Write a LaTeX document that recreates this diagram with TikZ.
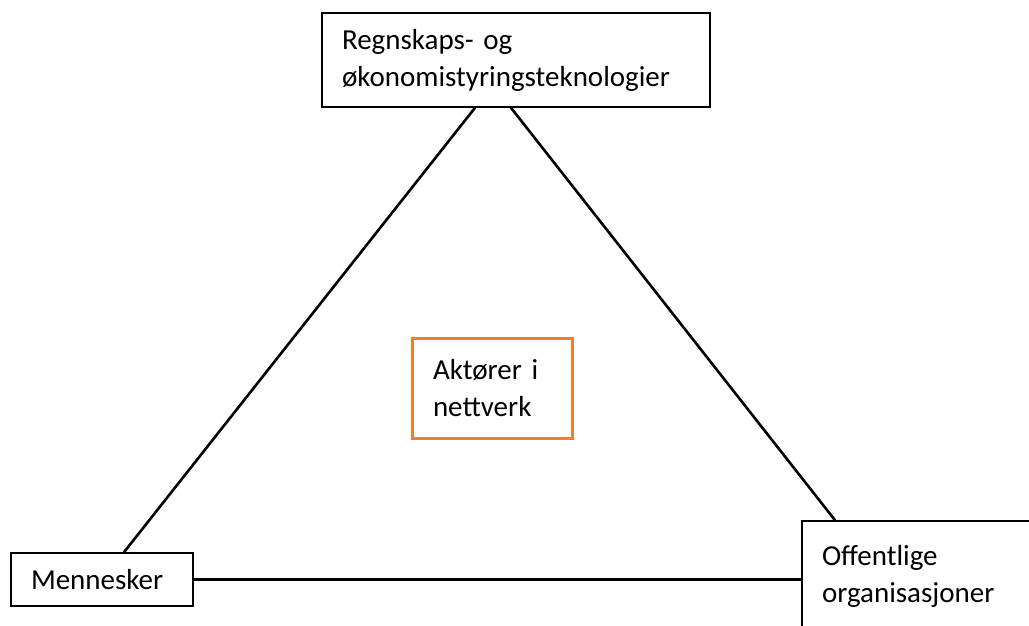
\documentclass[tikz,border=0pt]{standalone}
\usepackage{fontspec}
\setmainfont{Carlito}
\begin{document}
\begin{tikzpicture}
	[
	x=1pt, y=-1pt,
	align=left,
	box/.style={draw, line width=1.6pt, rectangle, inner xsep=20pt, inner ysep=0pt,
		font=\fontsize{29}{37}\selectfont},
	actor/.style={box, draw=actorange, line width=3pt},
	link/.style={line width=2.6pt},
	]
		\definecolor{actorange}{RGB}{237,125,49}
		\useasboundingbox (0,0) rectangle (1029,625);
		\clip (0,0) rectangle (1029,625);
		
		% technology
		\node[box, minimum width=388pt, minimum height=94pt, text width=348pt] (tek) at 		( 516.0,  60.0 ) {Regnskaps- og\\økonomistyringsteknologier};
		
		% people
		\node[box, minimum width=182pt, minimum height=53pt, text width=142pt] (men) at 		( 102.0, 579.5 ) {Mennesker};
		
		% organisations
		\node[box, minimum width=240pt, minimum height=110pt, text width=200pt, inner xsep=19pt] (org) at 		( 922.0, 576.0 ) {Offentlige\\organisasjoner\\[18pt]};
		
		% actors in network
		\node[actor, minimum width=160pt, minimum height=100pt, text width=118pt, inner xsep=21pt] (akt) at 		( 492.0, 388.0 ) {Aktører i\\nettverk};
		
		\foreach \from/\fs/\to/\ts in {tek.south/-41pt/men.north/22pt,tek.south/-5pt/org.north/-87pt} \draw[link] ([xshift=\fs]\from) -- ([xshift=\ts]\to);
		\draw[link] (men.east) -- (men.east -| org.west);
		
	\end{tikzpicture}
\end{document}
